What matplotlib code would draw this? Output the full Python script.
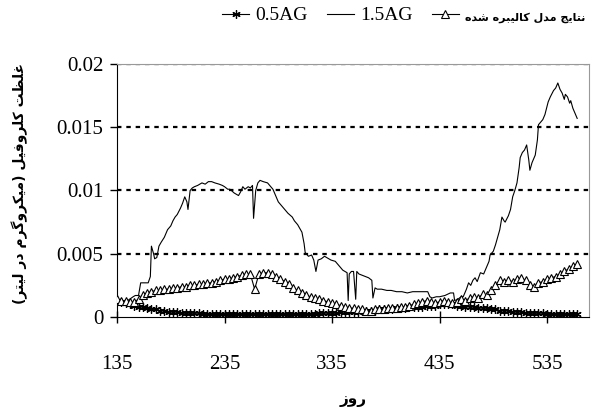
import numpy as np
import matplotlib
matplotlib.use('Agg')
import matplotlib.pyplot as plt
from matplotlib.font_manager import FontProperties

# Persian letters -> (isolated, final, initial, medial) presentation forms
FORMS = {
    'ا': ('\uFE8D', '\uFE8E', None, None),
    'ب': ('\uFE8F', '\uFE90', '\uFE91', '\uFE92'),
    'ت': ('\uFE95', '\uFE96', '\uFE97', '\uFE98'),
    'ج': ('\uFE9D', '\uFE9E', '\uFE9F', '\uFEA0'),
    'د': ('\uFEA9', '\uFEAA', None, None),
    'ر': ('\uFEAD', '\uFEAE', None, None),
    'ز': ('\uFEAF', '\uFEB0', None, None),
    'ش': ('\uFEB5', '\uFEB6', '\uFEB7', '\uFEB8'),
    'ظ': ('\uFEC5', '\uFEC6', '\uFEC7', '\uFEC8'),
    'غ': ('\uFECD', '\uFECE', '\uFECF', '\uFED0'),
    'ف': ('\uFED1', '\uFED2', '\uFED3', '\uFED4'),
    'ل': ('\uFEDD', '\uFEDE', '\uFEDF', '\uFEE0'),
    'م': ('\uFEE1', '\uFEE2', '\uFEE3', '\uFEE4'),
    'ن': ('\uFEE5', '\uFEE6', '\uFEE7', '\uFEE8'),
    'ه': ('\uFEE9', '\uFEEA', '\uFEEB', '\uFEEC'),
    'و': ('\uFEED', '\uFEEE', None, None),
    'ک': ('\uFB8E', '\uFB8F', '\uFB90', '\uFB91'),
    'گ': ('\uFB92', '\uFB93', '\uFB94', '\uFB95'),
    'ی': ('\uFBFC', '\uFBFD', '\uFBFE', '\uFBFF'),
}


def shape(txt):
    # join the letters and put them in visual (left to right) order
    out = []
    for i, ch in enumerate(txt):
        f = FORMS.get(ch)
        if f is None:
            out.append(ch)
            continue
        prev = txt[i - 1] if i > 0 else ''
        nxt = txt[i + 1] if i + 1 < len(txt) else ''
        join_prev = prev in FORMS and FORMS[prev][2] is not None
        join_next = f[2] is not None and nxt in FORMS
        if join_prev and join_next:
            out.append(f[3])
        elif join_prev:
            out.append(f[1])
        elif join_next:
            out.append(f[2])
        else:
            out.append(f[0])
    vis = ''.join(reversed(out))
    return vis.translate(str.maketrans('()', ')('))


# textos
label_model = 'نتایج مدل کالیبره شده'
label_y = 'غلظت کلروفیل (میکروگرم در لیتر)'
label_x = 'روز'
x_ticks = [135, 235, 335, 435, 535]
y_ticks = [0, 0.005, 0.01, 0.015, 0.02]
y_ticklabels = ['0', '0.005', '0.01', '0.015', '0.02']

# dias con marcadores (0.5AG y modelo)
dias = np.arange(135, 564, 4)

ag05 = [0.0013, 0.0012, 0.0011, 0.0010, 0.0009, 0.0008, 0.0008, 0.0007, 0.0006, 0.0006,
        0.0005, 0.0005, 0.0004, 0.0004, 0.0004, 0.0003, 0.0003, 0.0003, 0.0003, 0.0003,
        0.0002, 0.0002, 0.0002, 0.0002, 0.0002, 0.0002, 0.0002, 0.0002, 0.0002, 0.0002,
        0.0002, 0.0002, 0.0002, 0.0002, 0.0002, 0.0002, 0.0002, 0.0002, 0.0002, 0.0002,
        0.0002, 0.0002, 0.0002, 0.0002, 0.0002, 0.0002, 0.0002, 0.0003, 0.0003, 0.0003,
        0.0003, 0.0003, 0.0004, 0.0004, 0.0004, 0.0004, 0.0004, 0.0005, 0.0005, 0.0005,
        0.0005, 0.0006, 0.0006, 0.0006, 0.0006, 0.0007, 0.0007, 0.0007, 0.0008, 0.0008,
        0.0008, 0.0008, 0.0009, 0.0009, 0.0009, 0.0010, 0.0010, 0.0010, 0.0010, 0.0009,
        0.0009, 0.0008, 0.0008, 0.0008, 0.0007, 0.0007, 0.0007, 0.0006, 0.0006, 0.0005,
        0.0005, 0.0005, 0.0004, 0.0004, 0.0004, 0.0003, 0.0003, 0.0003, 0.0003, 0.0003,
        0.0002, 0.0002, 0.0002, 0.0002, 0.0002, 0.0002, 0.0002, 0.0002]

modelo = [0.0014, 0.0013, 0.0013, 0.0012, 0.0012, 0.0014, 0.0017, 0.0019, 0.0020, 0.0021,
          0.0021, 0.0022, 0.0022, 0.0023, 0.0023, 0.0024, 0.0024, 0.0025, 0.0025, 0.0026,
          0.0026, 0.0027, 0.0027, 0.0028, 0.0029, 0.0030, 0.0030, 0.0031, 0.0032, 0.0033,
          0.0034, 0.0034, 0.0022, 0.0034, 0.0035, 0.0035, 0.0034, 0.0032, 0.0030, 0.0028,
          0.0026, 0.0023, 0.0021, 0.0019, 0.0017, 0.0016, 0.0015, 0.0014, 0.0013, 0.0012,
          0.0011, 0.0010, 0.0009, 0.0008, 0.0007, 0.0007, 0.0006, 0.0006, 0.0005, 0.0005,
          0.0006, 0.0006, 0.0006, 0.0007, 0.0007, 0.0007, 0.0008, 0.0008, 0.0009, 0.0010,
          0.0011, 0.0012, 0.0013, 0.0012, 0.0011, 0.0012, 0.0013, 0.0012, 0.0011, 0.0012,
          0.0014, 0.0013, 0.0015, 0.0016, 0.0015, 0.0018, 0.0017, 0.0021, 0.0025, 0.0029,
          0.0028, 0.0029, 0.0028, 0.0030, 0.0031, 0.0029, 0.0025, 0.0024, 0.0027, 0.0028,
          0.0030, 0.0031, 0.0032, 0.0034, 0.0036, 0.0038, 0.0040, 0.0042]

# 1.5AG (linea sin marcadores)
dias15 = [135, 140, 145, 150, 152, 155, 157, 160, 164, 166, 167, 169, 170, 172, 174, 176, 179,
          182, 185, 187, 189, 191, 194, 196, 198, 200, 201, 203, 205, 207, 210, 214, 217, 220,
          223, 226, 230, 233, 235, 238, 240, 244, 248, 250, 252, 254, 257, 259, 261, 262, 263,
          264, 266, 268, 271, 275, 278, 280, 283, 285, 288, 291, 294, 298, 300, 303, 305, 307,
          309, 310, 313, 316, 318, 320, 322, 325, 328, 330, 334, 338, 341, 345, 347, 349, 350,
          351, 353, 355, 357, 358, 360, 363, 366, 369, 372, 373, 375, 377, 381, 386, 390, 395,
          400, 405, 410, 415, 420, 424, 426, 428, 432, 435, 440, 445, 448, 449, 452, 455, 457,
          460, 462, 464, 466, 468, 470, 473, 476, 479, 481, 482, 485, 487, 489, 491, 493, 495,
          496, 499, 501, 503, 505, 507, 509, 510, 512, 514, 516, 518, 519, 521, 524, 526, 527,
          529, 531, 533, 536, 538, 541, 543, 545, 547, 549, 551, 552, 554, 556, 557, 559, 561,
          563]
ag15 = [0.0014, 0.0013, 0.0013, 0.0016, 0.0017, 0.0017, 0.0027, 0.0027, 0.0027, 0.0032,
        0.0056, 0.0050, 0.0046, 0.0047, 0.0056, 0.0059, 0.0063, 0.0069, 0.0072, 0.0076,
        0.0079, 0.0081, 0.0086, 0.0090, 0.0095, 0.0091, 0.0085, 0.0100, 0.0102, 0.0103,
        0.0104, 0.0106, 0.0105, 0.0107, 0.0107, 0.0106, 0.0105, 0.0104, 0.0103, 0.0101,
        0.0101, 0.0098, 0.0096, 0.0099, 0.0103, 0.0101, 0.0103, 0.0102, 0.0104, 0.0078,
        0.0089, 0.0100, 0.0106, 0.0108, 0.0107, 0.0106, 0.0103, 0.0101, 0.0095, 0.0091,
        0.0088, 0.0085, 0.0082, 0.0079, 0.0076, 0.0073, 0.0070, 0.0067, 0.0058, 0.0051,
        0.0048, 0.0049, 0.0045, 0.0036, 0.0045, 0.0046, 0.0048, 0.0047, 0.0045, 0.0044,
        0.0041, 0.0037, 0.0036, 0.0035, 0.0013, 0.0034, 0.0036, 0.0036, 0.0014, 0.0036,
        0.0034, 0.0033, 0.0032, 0.0031, 0.0029, 0.0015, 0.0023, 0.0022, 0.0022, 0.0021,
        0.0021, 0.0020, 0.0020, 0.0019, 0.0020, 0.0020, 0.0020, 0.0020, 0.0016, 0.0015,
        0.0016, 0.0016, 0.0017, 0.0019, 0.0019, 0.0013, 0.0014, 0.0016, 0.0016, 0.0022,
        0.0027, 0.0025, 0.0029, 0.0031, 0.0028, 0.0035, 0.0034, 0.0040, 0.0044, 0.0049,
        0.0052, 0.0057, 0.0063, 0.0069, 0.0079, 0.0076, 0.0075, 0.0080, 0.0085, 0.0095,
        0.0100, 0.0106, 0.0118, 0.0126, 0.0130, 0.0132, 0.0136, 0.0124, 0.0116, 0.0122,
        0.0128, 0.0140, 0.0152, 0.0154, 0.0156, 0.0160, 0.0170, 0.0174, 0.0179, 0.0181,
        0.0185, 0.0180, 0.0177, 0.0172, 0.0176, 0.0174, 0.0169, 0.0171, 0.0165, 0.0161,
        0.0157]

serif = 'Liberation Serif'
fa_font = FontProperties(family=['DejaVu Sans'], weight='bold', size=10)

fig = plt.figure(figsize=(5.94, 4.12), dpi=100)
ax = fig.add_axes([0.197, 0.2306, 0.7946, 0.6141])

ax.plot(dias, ag05, color='black', lw=0.8, marker=(6, 2, 0), ms=6, mew=0.9,
        label='0.5AG', zorder=3)
ax.plot(dias15, ag15, color='black', lw=0.8, label='1.5AG', zorder=4)
ax.plot(dias, modelo, color='black', lw=0.8, marker='^', ms=6, mfc='white',
        mec='black', mew=0.8, label=shape(label_model), zorder=5)

ax.set_xlim(135, 574)
ax.set_ylim(0, 0.02)
ax.set_xticks(x_ticks)
ax.set_yticks(y_ticks)
ax.set_yticklabels(y_ticklabels)
ax.set_xticklabels([str(t) for t in x_ticks])

for y in y_ticks[1:]:
    ax.axhline(y, color='black', lw=1.6, ls=(0, (2, 2.2)), zorder=1)

ax.spines['left'].set_color('black')
ax.spines['bottom'].set_color('black')
ax.spines['top'].set_color('#999999')
ax.spines['right'].set_color('#999999')

ax.tick_params(axis='x', direction='inout', length=9, width=1, pad=23)
ax.tick_params(axis='y', direction='out', length=5, width=1, pad=5)
for lab in ax.get_xticklabels() + ax.get_yticklabels():
    lab.set_fontfamily(serif)
    lab.set_fontsize(15)

fig.text(0.034, 0.555, shape(label_y), rotation=90, ha='center', va='center',
         fontproperties=fa_font)
fig.text(0.594, 0.03, shape(label_x), ha='center', va='center',
         fontproperties=FontProperties(family=['DejaVu Sans'], weight='bold', size=11))

leg = fig.legend(loc='center right', bbox_to_anchor=(1.005, 0.962), ncol=3, frameon=False,
                 prop={'family': serif, 'size': 14}, handlelength=1.4,
                 columnspacing=1.0, handletextpad=0.3, borderpad=0.1)
leg.get_texts()[2].set_fontproperties(FontProperties(family=['DejaVu Sans'],
                                                     weight='bold', size=8))

fig.savefig('out.png', dpi=100)
